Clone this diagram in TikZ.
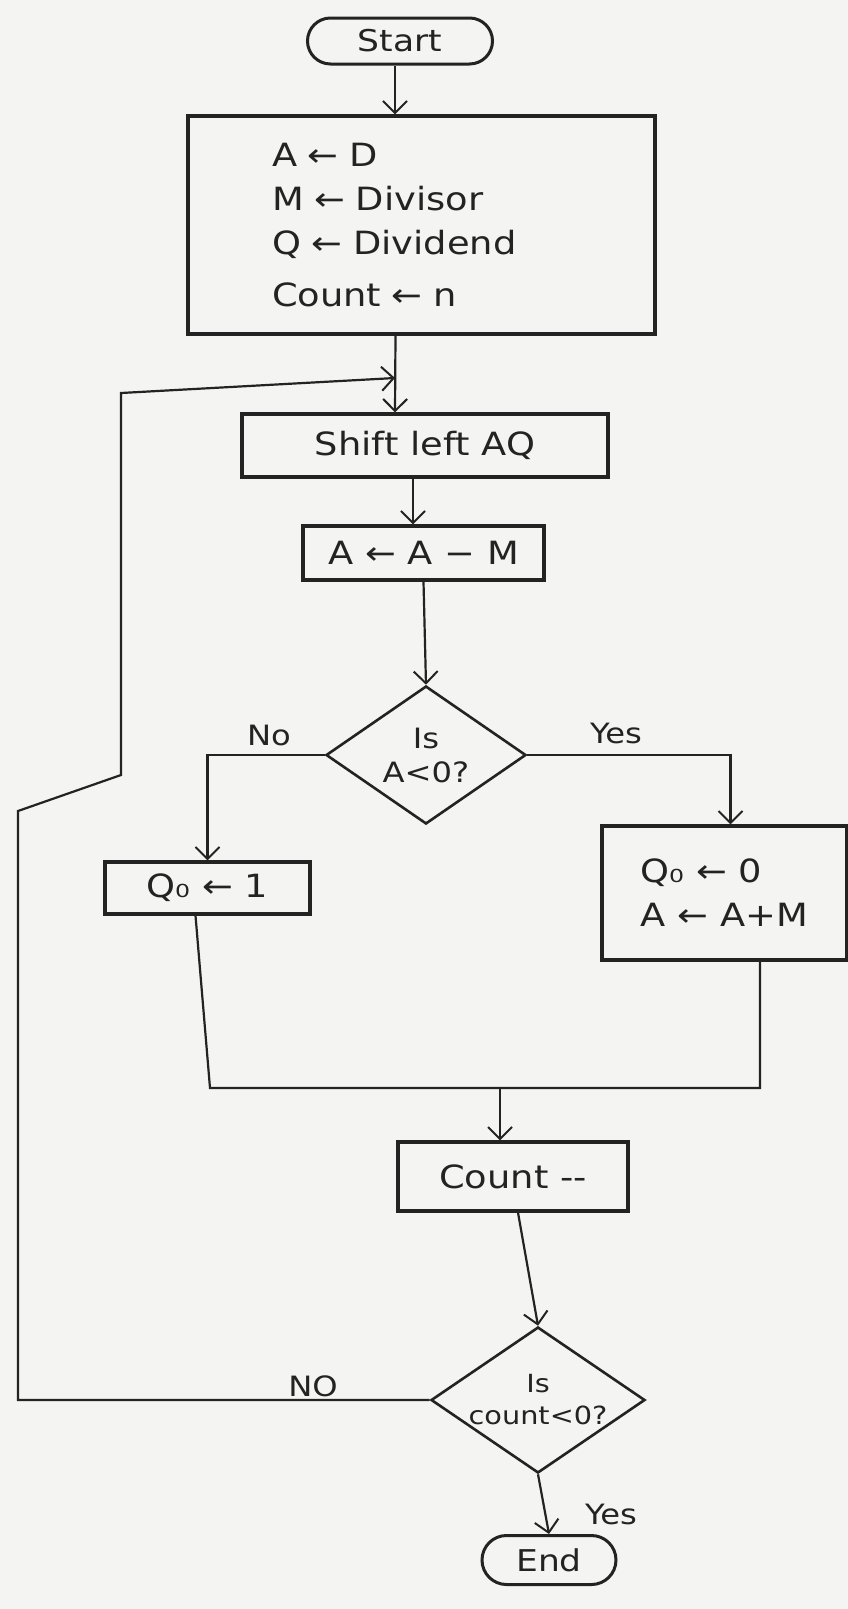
\documentclass[tikz,border=0pt]{standalone}
\usepackage{fontspec}
\setmainfont{DejaVu Sans}[FakeStretch=1.15]
\usetikzlibrary{shapes.geometric,shapes.misc,arrows.meta}
\definecolor{paper}{RGB}{244,244,242}
\definecolor{ink}{RGB}{35,35,35}
\tikzset{
  x=1pt, y=-1pt,
  box/.style={draw=ink, line width=3.2pt, rectangle, inner sep=0pt, text=ink,
    font=\fontsize{32}{44}\selectfont},
  term/.style={draw=ink, line width=3pt, rounded rectangle, inner sep=0pt, text=ink,
    font=\fontsize{30}{36}\selectfont},
  decide/.style={draw=ink, line width=2.6pt, diamond, inner sep=0pt, text=ink, align=center},
  conn/.style={draw=ink, line width=2.2pt},
  arr/.style={conn, -{Straight Barb[length=12pt,width=24pt,line width=2pt]}},
  lbl/.style={text=ink, font=\fontsize{28}{32}\selectfont}
}
\begin{document}
\begin{tikzpicture}
\path[fill=paper, use as bounding box] (0,0) rectangle (848,1609);

\node[term, minimum width=185pt, minimum height=46pt] (start) at (400,41) {Start};
\node[box, minimum height=218pt, align=left, inner xsep=0pt, text width=467pt] (init) at (421.5,225)
  {\hspace*{84pt}A ← D\\\hspace*{84pt}M ← Divisor\\\hspace*{84pt}Q ← Dividend\\[8pt]\hspace*{84pt}Count ← n};
\node[box, minimum width=366pt, minimum height=63pt] (shift) at (425,445.5) {Shift left AQ};
\node[box, minimum width=241pt, minimum height=54pt] (abox) at (423.5,553) {A ← A − M};
\node[decide, minimum width=200pt, minimum height=138pt, aspect=1.45,
  font=\fontsize{28}{34}\selectfont] (d1) at (426,755) {Is\\A<0?};
\node[box, minimum width=205pt, minimum height=52pt] (q1) at (207.5,888) {Q₀ ← 1};
\node[box, minimum width=245pt, minimum height=134pt, align=left] (q2) at (724.5,893)
  {Q₀ ← 0\\A ← A+M};
\node[box, minimum width=230pt, minimum height=69pt] (count) at (513,1176.5) {Count -{}-};
\node[decide, minimum width=214pt, minimum height=146pt, aspect=1.47,
  font=\fontsize{25}{32}\selectfont] (d2) at (538,1400) {Is\\count<0?};
\node[term, minimum width=134pt, minimum height=49pt] (end) at (549,1560) {End};

\coordinate (j) at (395,378);
\coordinate (m) at (500,1088);

\draw[arr] ([xshift=-5pt]start.south) -- ([xshift=-5pt]start.south |- init.north);
\draw[arr] ([xshift=-26pt]init.south) -- ([xshift=-30pt]shift.north);
\draw[arr] ([xshift=-12pt]shift.south) -- ([xshift=-10.5pt]abox.north);
\draw[arr] (abox.south) -- (d1.north);
\draw[arr] (d1.west) -| (q1.north);
\draw[arr] (d1.east) -| ([xshift=6pt]q2.north);
\draw[conn] ([xshift=-12pt]q1.south) -- (210,1088) -- (760,1088) -- ([xshift=35.5pt]q2.south);
\draw[arr] (m) -- (m |- count.north);
\draw[arr] ([xshift=5pt]count.south) -- (d2.north);
\draw[arr] (d2.south) -- (end.north);
\draw[arr] (d2.west) -- (18,1400) -- (18,811) -- (121,775) -- (121,393) -- (j);

\node[lbl] (l1) at (269,735) {No};
\node[lbl] (l2) at (616,733) {Yes};
\node[lbl] (l3) at (313,1386) {NO};
\node[lbl] (l4) at (611,1514) {Yes};
\end{tikzpicture}
\end{document}
